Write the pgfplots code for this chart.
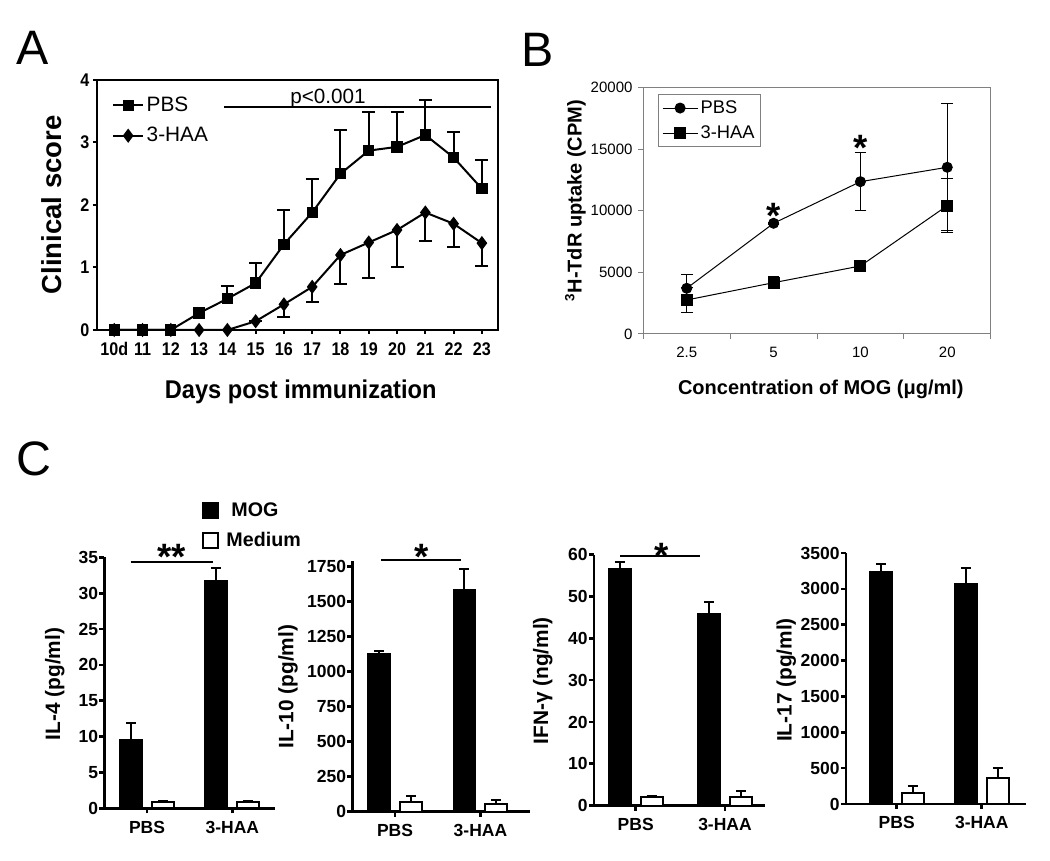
\documentclass[border=0pt]{standalone}
\usepackage{fontspec}
\setmainfont{Liberation Sans}
\newfontfamily\narrowfont[FakeStretch=0.88]{Liberation Sans}
\newfontfamily\semifont[FakeStretch=0.92]{Liberation Sans}
\usepackage{pgfplots}
\pgfplotsset{compat=1.18}

\newcommand{\fs}[1]{\fontsize{#1}{#1}\selectfont}

\pgfplotsset{
  cbar/.style={
    scale only axis, anchor=south west, height=150.6pt,
    axis x line=bottom, axis y line=left,
    axis line style={-, line width=1.6pt},
    every tick/.style={black, line width=1.6pt},
    tick align=outside, major tick length=3pt,
    xtick={0,1}, xticklabels={PBS,3-HAA},
    ymin=0, ybar, bar width=13.2pt,
    tick label style={font=\bfseries\fs{10.5}},
    yticklabel style={inner sep=0.6pt},
    xticklabel style={yshift=-1pt},
    /pgf/number format/assume math mode=true,
    /pgf/number format/set thousands separator={},
    scaled y ticks=false, clip=false,
  },
  mog/.style={fill=black, draw=black, line width=1pt, bar shift=-9.6pt,
    legend image code/.code={\draw[fill=black] (0pt,-4.5pt) rectangle (9pt,4.5pt);},
    error bars/y dir=plus, error bars/y explicit,
    error bars/error bar style={line width=1.2pt},
    error bars/error mark options={rotate=90, line width=1.2pt, mark size=3pt}},
  med/.style={fill=white, draw=black, line width=1.2pt, bar shift=9.6pt,
    legend image code/.code={\draw[fill=white, line width=0.8pt] (0pt,-4.5pt) rectangle (9pt,4.5pt);},
    error bars/y dir=plus, error bars/y explicit,
    error bars/error bar style={line width=1.2pt},
    error bars/error mark options={rotate=90, line width=1.2pt, mark size=3pt}},
}

\begin{document}
\begin{tikzpicture}
\path[use as bounding box] (0,0) rectangle (630pt,516.6pt);

% ---------- A: clinical score ----------
\begin{axis}[
  at={(58.2pt,318.6pt)}, anchor=south west, scale only axis,
  width=240.6pt, height=150pt,
  xmin=9.39, xmax=23.57, ymin=0, ymax=4,
  xtick={10,11,12,13,14,15,16,17,18,19,20,21,22,23},
  xticklabels={10d,11,12,13,14,15,16,17,18,19,20,21,22,23},
  ytick={0,1,2,3,4},
  axis line style={line width=1.2pt},
  every tick/.style={black, line width=1.2pt},
  tick align=outside, major tick length=2.4pt,
  xtick pos=bottom, ytick pos=left,
  tick label style={font=\narrowfont\bfseries\fs{11}},
  xticklabel style={anchor=north, text height=8pt, text depth=0pt, yshift=-1.5pt},
  yticklabel style={inner sep=2pt},
  /pgf/number format/assume math mode=true,
  clip=false,
  legend style={at={(0.037,0.944)}, anchor=north west, draw=none, fill=none,
    inner sep=0pt, row sep=5pt, nodes={inner sep=1.5pt}, font=\fs{12.5}},
  legend cell align=left,
  legend image code/.code={\draw[mark repeat=2,mark phase=2,#1] plot coordinates {(0pt,0pt) (9pt,0pt) (18pt,0pt)};},
]
\addplot[black, line width=1.2pt, mark=square*, mark size=2.8pt,
  error bars/.cd, y dir=plus, y explicit,
  error bar style={line width=1.2pt}, error mark options={rotate=90, line width=1.2pt, mark size=3.9pt}]
  coordinates {
  (10,0) +- (0,0) (11,0) +- (0,0) (12,0) +- (0,0) (13,0.27) +- (0,0.05)
  (14,0.5) +- (0,0.2) (15,0.75) +- (0,0.32) (16,1.37) +- (0,0.55)
  (17,1.88) +- (0,0.54) (18,2.5) +- (0,0.7) (19,2.87) +- (0,0.61)
  (20,2.93) +- (0,0.55) (21,3.12) +- (0,0.56) (22,2.76) +- (0,0.41)
  (23,2.26) +- (0,0.46)};
\addlegendentry{PBS}
\addplot[black, line width=1.2pt, mark=diamond*, mark size=3.3pt,
  error bars/.cd, y dir=minus, y explicit,
  error bar style={line width=1.2pt}, error mark options={rotate=90, line width=1.2pt, mark size=3.9pt}]
  coordinates {
  (10,0) +- (0,0) (11,0) +- (0,0) (12,0) +- (0,0) (13,0) +- (0,0)
  (14,0) +- (0,0) (15,0.14) +- (0,0) (16,0.41) +- (0,0.2)
  (17,0.69) +- (0,0.25) (18,1.2) +- (0,0.47) (19,1.4) +- (0,0.57)
  (20,1.6) +- (0,0.6) (21,1.88) +- (0,0.46) (22,1.7) +- (0,0.37)
  (23,1.39) +- (0,0.36)};
\addlegendentry{3-HAA}
\end{axis}

% ---------- B: proliferation ----------
\begin{axis}[
  at={(386pt,316.2pt)}, anchor=south west, scale only axis,
  width=208.4pt, height=147.8pt,
  xmin=-0.5, xmax=3.5, ymin=0, ymax=20000,
  xtick={0,1,2,3}, xticklabels={2.5,5,10,20},
  minor xtick={-0.5,0.5,1.5,2.5,3.5},
  major x tick style={draw=none},
  ytick={0,5000,10000,15000,20000},
  axis line style={gray, line width=0.6pt},
  every tick/.style={gray, line width=0.6pt},
  tick align=outside, major tick length=3pt, minor tick length=3pt,
  xtick pos=bottom, ytick pos=left,
  tick label style={font=\fs{9}},
  xticklabel style={yshift=-1.5pt},
  /pgf/number format/assume math mode=true,
  /pgf/number format/set thousands separator={},
  scaled y ticks=false, clip=false,
  legend style={at={(0.043,0.974)}, anchor=north west, draw=gray, line width=0.6pt,
    fill=white, inner sep=2pt, row sep=3pt, nodes={inner sep=1.5pt}, font=\fs{11}},
  legend cell align=left,
  legend image code/.code={\draw[mark repeat=2,mark phase=2,#1] plot coordinates {(0pt,0pt) (10.5pt,0pt) (21pt,0pt)};},
]
\addplot[black, line width=0.6pt, mark=*, mark size=3pt,
  error bars/.cd, y dir=both, y explicit,
  error bar style={line width=0.6pt}, error mark options={rotate=90, line width=0.6pt, mark size=3.5pt}]
  coordinates {(0,3711) +- (0,1140) (1,8990) +- (0,100) (2,12367) +- (0,2355) (3,13535) +- (0,5165)};
\addlegendentry{PBS}
\addplot[black, line width=0.6pt, mark=square*, mark size=3.3pt,
  error bars/.cd, y dir=both, y explicit,
  error bar style={line width=0.6pt}, error mark options={rotate=90, line width=0.6pt, mark size=3.5pt}]
  coordinates {(0,2761) +- (0,1000) (1,4166) +- (0,490) (2,5522) +- (0,150) (3,10420) +- (0,2200)};
\addlegendentry{3-HAA}
\end{axis}

% ---------- C: cytokines ----------
\begin{axis}[cbar, at={(62.6pt,31.6pt)}, width=102.4pt,
  xmin=-0.5, xmax=1.5, ymax=35, ytick={0,5,...,35},
  legend style={at={(0.572,1.23)}, anchor=north west, draw=none, fill=none,
    inner sep=0pt, row sep=5pt, nodes={inner sep=1.5pt}, font=\bfseries\fs{11.8}},
  legend cell align=left]
\addplot[mog] coordinates {(0,9.6) +- (0,2.25) (1,31.7) +- (0,1.8)};
\addlegendentry{\hspace{6pt}MOG}
\addplot[med] coordinates {(0,0.92) +- (0,0.05) (1,0.92) +- (0,0.05)};
\addlegendentry{\hspace{3pt}Medium}
\end{axis}

\begin{axis}[cbar, at={(211.4pt,29.6pt)}, width=106.6pt,
  xmin=-0.5, xmax=1.58, ymax=1790, ytick={0,250,...,1750}]
\addplot[mog] coordinates {(0,1124) +- (0,24) (1,1584) +- (0,150)};
\addplot[med] coordinates {(0,71) +- (0,41) (1,53) +- (0,31)};
\end{axis}

\begin{axis}[cbar, at={(356.4pt,33.2pt)}, width=102.6pt,
  xmin=-0.467, xmax=1.448, ymax=60, ytick={0,10,...,60}]
\addplot[mog] coordinates {(0,56.6) +- (0,1.6) (1,45.9) +- (0,2.7)};
\addplot[med] coordinates {(0,2.0) +- (0,0.2) (1,2.0) +- (0,1.4)};
\end{axis}

\begin{axis}[cbar, at={(507.6pt,34.2pt)}, width=108pt,
  xmin=-0.596, xmax=1.52, ymax=3500, ytick={0,500,...,3500}]
\addplot[mog] coordinates {(0,3235) +- (0,116) (1,3067) +- (0,218)};
\addplot[med] coordinates {(0,158) +- (0,98) (1,363) +- (0,135)};
\end{axis}

% ---------- annotations, in pixel units of the reference ----------
\begin{scope}[x=0.6pt, y=-0.6pt, shift={(0pt,516.6pt)}, every node/.style={inner sep=0pt}]
  \node[anchor=base west, font=\fs{29}] at (16,65) {A};
  \node[anchor=base west, font=\fs{29}] at (521,66.7) {B};
  \node[anchor=base west, font=\fs{29}] at (16,476) {C};
  % A
  \node[rotate=90, font=\bfseries\fs{16.5}] at (51.7,205) {Clinical score};
  \node[anchor=base, font=\semifont\bfseries\fs{15.4}] at (300.7,398.3) {Days post immunization};
  \draw[line width=0.7pt] (224,107) -- (491,107);
  \node[anchor=base, font=\fs{12.4}] at (328,103.3) {p<0.001};
  % B
  \node[rotate=90, anchor=base, font=\bfseries\fs{12}] at (581.7,200.8) {\textsuperscript{3}H-TdR uptake (CPM)};
  \node[anchor=base, font=\bfseries\fs{12}] at (820.8,395) {Concentration of MOG (μg/ml)};
  \node[anchor=base, font=\bfseries\fs{22}] at (774,229) {*};
  \node[anchor=base, font=\bfseries\fs{22}] at (860.7,161) {*};
  % C
  \node[rotate=90, anchor=base, font=\bfseries\fs{12.5}] at (60,684) {IL-4 (pg/ml)};
  \node[rotate=90, anchor=base, font=\bfseries\fs{12.5}] at (293.3,686.7) {IL-10 (pg/ml)};
  \node[rotate=90, anchor=base, font=\bfseries\fs{12.5}] at (548,680.8) {IFN-γ (ng/ml)};
  \node[rotate=90, anchor=base, font=\bfseries\fs{12.5}] at (791.7,680) {IL-17 (pg/ml)};
  \draw[line width=1.2pt] (130.7,561.7) -- (213.3,561.7);
  \draw[line width=1.2pt] (381,560) -- (461,560);
  \draw[line width=1.2pt] (620,555.7) -- (700,555.7);
  \node[anchor=base, font=\bfseries\fs{22}] at (171.7,570) {**};
  \node[anchor=base, font=\bfseries\fs{22}] at (421.7,570) {*};
  \node[anchor=base, font=\bfseries\fs{22}] at (661.7,568.5) {*};
\end{scope}
\end{tikzpicture}
\end{document}
